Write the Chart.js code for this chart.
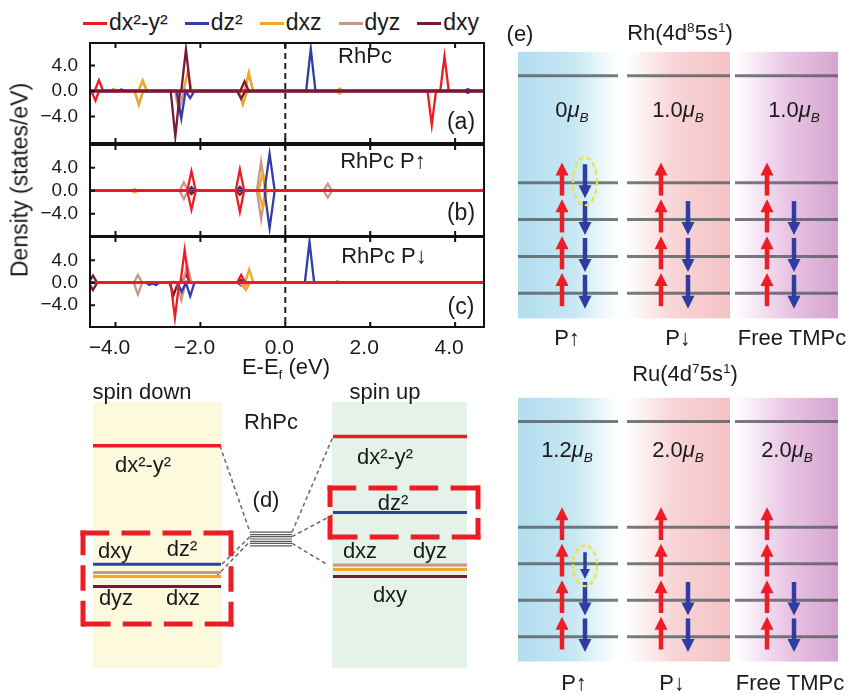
<!DOCTYPE html>
<html>
<head>
<meta charset="utf-8">
<title>RhPc DOS and spin diagrams</title>
<script src="https://cdn.jsdelivr.net/npm/chart.js@4.4.1/dist/chart.umd.min.js"></script>
<style>
    body { margin: 0; background: #fff; }
    #page {
        position: relative; width: 848px; height: 694px; overflow: hidden;
        font-family: 'Liberation Sans', Arial, sans-serif; color: #1a1a1a;
    }
    canvas { position: absolute; }
    .lbl {
        position: absolute; white-space: nowrap; line-height: 1;
        transform: translate(-50%, -50%); font-size: 22px;
    }
    sup, sub { font-size: 62%; line-height: 0; }
    #legend {
        position: absolute; left: 83px; top: 9px; display: flex; gap: 17px;
        font-size: 23px; line-height: 26px; white-space: nowrap;
    }
    #legend i { display: inline-block; width: 24px; height: 3px; margin-right: 2px; vertical-align: middle; }
</style>
</head>
<body>
<div id="page">
    <div id="legend"></div>
    <canvas id="dosA" width="500" height="104" style="left:0;top:41px"></canvas>
    <canvas id="dosB" width="500" height="95" style="left:0;top:143px"></canvas>
    <canvas id="dosC" width="500" height="137" style="left:0;top:235px"></canvas>
    <canvas id="diagD" width="425" height="310" style="left:75px;top:380px"></canvas>
    <canvas id="levelsRh" width="348" height="345" style="left:500px;top:0"></canvas>
    <canvas id="levelsRu" width="348" height="349" style="left:500px;top:345px"></canvas>
</div>

<script>
// ===============================
// DATA
// ===============================

const orbitals = ['dx²-y²', 'dz²', 'dxz', 'dyz', 'dxy'];
const panelTitles = ['RhPc', 'RhPc P↑', 'RhPc P↓'];
const xTickValues = [-4, -2, 0, 2, 4];
const yTickValues = [-4, 0, 4];
const fermiLevel = 0;

// [E (eV), DOS (states/eV)] per orbital, spin up positive / spin down negative
const panelA_up = [
    [[-4.7, 0], [-4.49, 0], [-4.39, 1.7], [-4.29, 0], [3.65, 0], [3.75, 5.4], [3.85, 0], [4.7, 0]],
    [[-4.7, 0], [0.49, 0], [0.6, 6.6], [0.71, 0], [4.22, 0], [4.3, 0.3], [4.38, 0], [4.7, 0]],
    [[-4.7, 0], [-4.13, 0], [-4.05, 0.3], [-3.97, 0], [-3.46, 0], [-3.36, 1.7], [-3.26, 0], [-2.4, 0], [-2.3, 3.0], [-2.2, 0], [-0.96, 0], [-0.86, 2.9], [-0.76, 0], [1.2, 0], [1.28, 0.4], [1.36, 0], [4.7, 0]],
    [[-4.7, 0], [-4.13, 0], [-4.05, 0.3], [-3.97, 0], [-3.46, 0], [-3.36, 1.5], [-3.26, 0], [-0.96, 0], [-0.86, 2.6], [-0.76, 0], [4.7, 0]],
    [[-4.7, 0], [-3.94, 0], [-3.86, 0.25], [-3.78, 0], [-2.45, 0], [-2.34, 6.5], [-2.23, 0], [-1.06, 0], [-0.96, 1.5], [-0.86, 0], [4.7, 0]]
];
const panelA_down = [
    [[-4.7, 0], [-4.57, 0], [-4.47, -1.5], [-4.39, 0], [3.35, 0], [3.45, -5.3], [3.55, 0], [4.7, 0]],
    [[-4.7, 0], [-2.56, 0], [-2.45, -4.3], [-2.35, 0], [-2.24, -1.1], [-2.14, 0], [4.22, 0], [4.3, -0.3], [4.38, 0], [4.7, 0]],
    [[-4.7, 0], [-3.55, 0], [-3.45, -2.0], [-3.35, 0], [-1.1, 0], [-1.0, -2.0], [-0.9, 0], [1.2, 0], [1.28, -0.4], [1.36, 0], [4.7, 0]],
    [[-4.7, 0], [-3.55, 0], [-3.45, -2.2], [-3.35, 0], [-2.6, 0], [-2.5, -3.2], [-2.4, 0], [-1.1, 0], [-1.0, -2.1], [-0.9, 0], [4.7, 0]],
    [[-4.7, 0], [-2.7, 0], [-2.59, -7.1], [-2.48, 0], [-1.14, 0], [-1.04, -1.2], [-0.94, 0], [4.7, 0]]
];
const panelB_up = [
    [[-4.7, 0], [-2.31, 0], [-2.21, 3.4], [-2.11, 0], [-1.17, 0], [-1.07, 3.7], [-0.97, 0], [4.7, 0]],
    [[-4.7, 0], [-0.49, 0], [-0.37, 6.4], [-0.25, 0], [4.7, 0]],
    [[-4.7, 0], [-3.63, 0], [-3.55, 0.3], [-3.47, 0], [-0.63, 0], [-0.53, 3.2], [-0.43, 0], [4.7, 0]],
    [[-4.7, 0], [-2.49, 0], [-2.39, 1.45], [-2.29, 0], [-0.67, 0], [-0.57, 5.0], [-0.47, 0], [0.9, 0], [1.0, 1.2], [1.1, 0], [4.7, 0]],
    [[-4.7, 0], [-2.29, 0], [-2.21, 0.6], [-2.13, 0], [-1.15, 0], [-1.07, 0.7], [-0.99, 0], [4.7, 0]]
];
const panelB_down = [
    [[-4.7, 0], [-2.31, 0], [-2.21, -3.3], [-2.11, 0], [-1.17, 0], [-1.07, -3.7], [-0.97, 0], [4.7, 0]],
    [[-4.7, 0], [-0.49, 0], [-0.37, -6.5], [-0.25, 0], [4.7, 0]],
    [[-4.7, 0], [-3.63, 0], [-3.55, -0.3], [-3.47, 0], [-0.63, 0], [-0.53, -3.0], [-0.43, 0], [4.7, 0]],
    [[-4.7, 0], [-2.49, 0], [-2.39, -1.45], [-2.29, 0], [-0.67, 0], [-0.57, -5.0], [-0.47, 0], [0.9, 0], [1.0, -1.2], [1.1, 0], [4.7, 0]],
    [[-4.7, 0], [-2.29, 0], [-2.21, -0.6], [-2.13, 0], [-1.15, 0], [-1.07, -0.7], [-0.99, 0], [4.7, 0]]
];
const panelC_up = [
    [[-4.7, 0], [-2.47, 0], [-2.37, 5.8], [-2.27, 0], [-1.14, 0], [-1.04, 1.4], [-0.94, 0], [4.7, 0]],
    [[-4.7, 0], [0.46, 0], [0.57, 7.3], [0.68, 0], [4.7, 0]],
    [[-4.7, 0], [-0.95, 0], [-0.85, 2.4], [-0.75, 0], [4.7, 0]],
    [[-4.7, 0], [-3.57, 0], [-3.47, 1.4], [-3.37, 0], [-2.41, 0], [-2.31, 3.2], [-2.21, 0], [1.15, 0], [1.23, 0.3], [1.31, 0], [4.7, 0]],
    [[-4.7, 0], [-4.63, 0], [-4.53, 1.3], [-4.43, 0], [-2.44, 0], [-2.34, 1.5], [-2.24, 0], [-1.12, 0], [-1.04, 0.5], [-0.96, 0], [4.7, 0]]
];
const panelC_down = [
    [[-4.7, 0], [-2.7, 0], [-2.6, -6.25], [-2.5, 0], [4.7, 0]],
    [[-4.7, 0], [-3.28, 0], [-3.2, -0.4], [-3.12, 0], [-3.05, -0.4], [-2.97, 0], [-2.54, 0], [-2.44, -1.6], [-2.34, 0], [-2.24, -2.4], [-2.14, 0], [4.7, 0]],
    [[-4.7, 0], [-1.03, 0], [-0.93, -1.3], [-0.83, 0], [4.7, 0]],
    [[-4.7, 0], [-3.57, 0], [-3.47, -2.1], [-3.37, 0], [-2.55, 0], [-2.45, -3.1], [-2.35, 0], [-1.08, 0], [-0.98, -0.8], [-0.88, 0], [4.7, 0]],
    [[-4.7, 0], [-4.63, 0], [-4.53, -1.3], [-4.43, 0], [-2.73, 0], [-2.63, -2.2], [-2.53, 0], [-1.12, 0], [-1.04, -0.5], [-0.96, 0], [4.7, 0]]
];

// (d) crystal-field levels of RhPc (relative energy), same orbital order
const spinDownLevels = [2.33, -0.63, -0.94, -0.84, -1.19];
const spinUpLevels = [2.56, 0.66, -0.76, -0.65, -0.94];
const freeIonLevels = [0.17, 0.11, 0.06, 0, -0.06, -0.11, -0.17];

// (e) filling of the four occupied d levels + empty top level
const eColumns = ['P↑', 'P↓', 'Free TMPc'];
const eLevels = [1, 2, 3, 4, 6.9];
const rhSpinUp = [4, 4, 4];
const rhSpinDown = [4, 3, 3];
const ruSpinUp = [4, 4, 4];
const ruSpinDown = [2.8, 2, 2];

// ===============================
// STYLE / LAYOUT
// ===============================

const FONT = "'Liberation Sans', Arial, sans-serif";
const orbitalColors = ['#ec1c24', '#2f3fa6', '#f5a623', '#c8978a', '#78183c'];
Chart.defaults.font.family = FONT;
Chart.defaults.color = '#1a1a1a';

const page = document.getElementById('page');
const fmt = v => (v < 0 ? '\u2212' : '') + Math.abs(v).toFixed(1);

function addLabel(html, x, y, extra) {
    const el = document.createElement('div');
    el.className = 'lbl';
    el.innerHTML = html;
    el.style.left = x + 'px';
    el.style.top = y + 'px';
    if (extra) el.style.cssText += extra;
    page.appendChild(el);
}

// ===============================
// DOS PANELS (a)(b)(c)
// ===============================

const dosFrame = {
    id: 'dosFrame',
    beforeDatasetsDraw(chart) {
        const { ctx, chartArea: a } = chart;
        const px = chart.scales.x.getPixelForValue(fermiLevel);
        ctx.save();
        ctx.strokeStyle = '#222';
        ctx.lineWidth = 2;
        ctx.setLineDash([6, 4]);
        ctx.beginPath();
        ctx.moveTo(px, a.top);
        ctx.lineTo(px, a.bottom);
        ctx.stroke();
        ctx.restore();
    },
    afterDraw(chart) {
        const { ctx, chartArea: a, scales: { x, y } } = chart;
        ctx.save();
        ctx.strokeStyle = '#111';
        ctx.lineWidth = 2;
        ctx.beginPath();
        xTickValues.forEach(v => {
            const px = x.getPixelForValue(v);
            ctx.moveTo(px, a.bottom); ctx.lineTo(px, a.bottom - 5);
            ctx.moveTo(px, a.top); ctx.lineTo(px, a.top + 5);
        });
        yTickValues.forEach(v => {
            const py = y.getPixelForValue(v);
            ctx.moveTo(a.left, py); ctx.lineTo(a.left + 5, py);
        });
        ctx.stroke();
        ctx.strokeRect(a.left, a.top, a.right - a.left, a.bottom - a.top);
        ctx.restore();
    }
};

function makeDos(id, upSets, downSets, yMin, yMax, topOrbital, showX) {
    const datasets = [];
    orbitals.forEach((name, i) => {
        [upSets[i], downSets[i]].forEach(pts => {
            datasets.push({
                label: name,
                data: pts.map(p => ({ x: p[0], y: p[1] })),
                borderColor: orbitalColors[i],
                borderWidth: 2.3,
                pointRadius: 0,
                tension: 0,
                order: i === topOrbital ? 0 : 1
            });
        });
    });

    return new Chart(document.getElementById(id), {
        type: 'line',
        data: { datasets },
        options: {
            responsive: false,
            animation: false,
            events: [],
            layout: { padding: { top: 2, bottom: showX ? 0 : 2, left: 0, right: 16 } },
            plugins: { legend: { display: false }, tooltip: { enabled: false } },
            scales: {
                x: {
                    type: 'linear',
                    min: -4.6,
                    max: 4.68,
                    display: showX,
                    afterBuildTicks: s => { s.ticks = xTickValues.map(v => ({ value: v })); },
                    afterFit: s => {
                        if (showX) s.height = 45;
                        s.paddingLeft = 0;
                        s.paddingRight = 0;
                    },
                    grid: { display: false },
                    border: { display: false },
                    ticks: {
                        font: { size: 21 },
                        color: '#1a1a1a',
                        padding: 1,
                        labelOffset: -6,
                        maxRotation: 0,
                        autoSkip: false,
                        callback: v => fmt(v)
                    }
                },
                y: {
                    min: yMin,
                    max: yMax,
                    afterBuildTicks: s => { s.ticks = yTickValues.map(v => ({ value: v })); },
                    afterFit: s => {
                        s.width = 90;
                        s.paddingTop = 0;
                        s.paddingBottom = 0;
                    },
                    grid: { display: false },
                    border: { display: false },
                    ticks: {
                        font: { size: 19 },
                        color: '#1a1a1a',
                        padding: 4,
                        callback: v => fmt(v)
                    }
                }
            }
        },
        plugins: [dosFrame]
    });
}

makeDos('dosA', panelA_up, panelA_down, -8.125, 7.5, 4, false);
makeDos('dosB', panelB_up, panelB_down, -7.88, 7.95, 0, false);
makeDos('dosC', panelC_up, panelC_down, -7.9, 8.16, 0, true);

// legend
const legendBox = document.getElementById('legend');
orbitals.forEach((name, i) => {
    legendBox.innerHTML += `<span><i style="background:${orbitalColors[i]}"></i>${name}</span>`;
});

addLabel(panelTitles[0], 365, 56);
addLabel('(a)', 461, 121, 'font-size:23px');
addLabel(panelTitles[1], 383, 161);
addLabel('(b)', 461, 212, 'font-size:23px');
addLabel(panelTitles[2], 384, 256);
addLabel('(c)', 461, 306, 'font-size:23px');
addLabel('Density (states/eV)', 20, 180, 'transform:translate(-50%,-50%) rotate(-90deg);font-size:23px');
addLabel('E-E<sub>f</sub> (eV)', 286, 367);

// ===============================
// (d) LEVEL SPLITTING
// ===============================

const dLayout = {
    left: [93, 221],
    right: [333, 467],
    centre: [250, 292],
    bgLeft: [93, 222],
    bgRight: [332, 467],
    bgTop: 3.425,
    bgBottom: -3.225,
    leftBox: [83, 231, 0.15, -2.125],
    rightBox: [330, 478, 1.275, 0.05],
    leftLinks: [[0, 220, 0], [1, 222, 2], [2, 216, 4]],
    rightLinks: [[0, 333, 0], [1, 337, 2], [3, 328, 5]]
};

function levelLine(span, e, color, width) {
    return {
        data: [{ x: span[0], y: e }, { x: span[1], y: e }],
        borderColor: color,
        borderWidth: width,
        pointRadius: 0
    };
}

function dashedSide(ctx, x0, y0, x1, y1) {
    const len = Math.hypot(x1 - x0, y1 - y0);
    const n = Math.max(1, Math.round((len + 16) / 38));
    const s = (len + 16) / (n * 38);
    ctx.setLineDash([22 * s, 16 * s]);
    ctx.beginPath();
    ctx.moveTo(x0, y0);
    ctx.lineTo(x1, y1);
    ctx.stroke();
}

const diagramD = {
    id: 'diagramD',
    beforeDatasetsDraw(chart) {
        const { ctx, scales: { x, y } } = chart;
        const top = y.getPixelForValue(dLayout.bgTop);
        const bot = y.getPixelForValue(dLayout.bgBottom);
        ctx.save();
        ctx.fillStyle = '#fcf9dd';
        ctx.fillRect(x.getPixelForValue(dLayout.bgLeft[0]), top,
            x.getPixelForValue(dLayout.bgLeft[1]) - x.getPixelForValue(dLayout.bgLeft[0]), bot - top);
        ctx.fillStyle = '#e4f2e9';
        ctx.fillRect(x.getPixelForValue(dLayout.bgRight[0]), top,
            x.getPixelForValue(dLayout.bgRight[1]) - x.getPixelForValue(dLayout.bgRight[0]), bot - top);
        ctx.restore();
    },
    afterDatasetsDraw(chart) {
        const { ctx, scales: { x, y } } = chart;
        ctx.save();
        ctx.strokeStyle = '#ec1c24';
        ctx.lineWidth = 5;
        ctx.lineCap = 'square';
        [dLayout.leftBox, dLayout.rightBox].forEach(b => {
            const x0 = x.getPixelForValue(b[0]), x1 = x.getPixelForValue(b[1]);
            const y0 = y.getPixelForValue(b[2]), y1 = y.getPixelForValue(b[3]);
            dashedSide(ctx, x0, y0, x1, y0);
            dashedSide(ctx, x1, y0, x1, y1);
            dashedSide(ctx, x1, y1, x0, y1);
            dashedSide(ctx, x0, y1, x0, y0);
        });
        ctx.restore();
    }
};

const dDatasets = [];
orbitals.forEach((name, i) => {
    const w = i === 0 ? 3.5 : 3;
    dDatasets.push(levelLine(dLayout.left, spinDownLevels[i], orbitalColors[i], w));
    dDatasets.push(levelLine(dLayout.right, spinUpLevels[i], orbitalColors[i], w));
});
freeIonLevels.forEach(e => dDatasets.push(levelLine(dLayout.centre, e, '#5a5a5a', 1.2)));
dLayout.leftLinks.forEach(([orb, x0, c]) => {
    dDatasets.push({
        data: [{ x: x0, y: spinDownLevels[orb] }, { x: dLayout.centre[0], y: freeIonLevels[c] }],
        borderColor: '#707070', borderWidth: 1.6, borderDash: [4, 3], pointRadius: 0
    });
});
dLayout.rightLinks.forEach(([orb, x1, c]) => {
    dDatasets.push({
        data: [{ x: dLayout.centre[1], y: freeIonLevels[c] }, { x: x1, y: spinUpLevels[orb] }],
        borderColor: '#707070', borderWidth: 1.6, borderDash: [4, 3], pointRadius: 0
    });
});

new Chart(document.getElementById('diagD'), {
    type: 'line',
    data: { datasets: dDatasets },
    options: {
        responsive: false,
        animation: false,
        events: [],
        layout: { padding: 0 },
        plugins: { legend: { display: false }, tooltip: { enabled: false } },
        scales: {
            x: { type: 'linear', display: false, min: 75, max: 500 },
            y: { display: false, min: -3.775, max: 3.975 }
        }
    },
    plugins: [diagramD]
});

addLabel('spin down', 142, 392);
addLabel('spin up', 385, 392);
addLabel('RhPc', 271, 422);
addLabel('(d)', 266, 500);
addLabel(orbitals[0], 143, 465);
addLabel(orbitals[0], 385, 457);
addLabel(orbitals[1], 393, 503);
addLabel(orbitals[2], 360, 551);
addLabel(orbitals[3], 430, 551);
addLabel(orbitals[4], 390, 595);
addLabel(orbitals[4], 115, 551);
addLabel(orbitals[1], 182, 549);
addLabel(orbitals[3], 116, 598);
addLabel(orbitals[2], 183, 598);

// ===============================
// (e) SPIN FILLING
// ===============================

const eLayout = {
    cols: [[518, 618], [627, 730], [735, 838]],
    arrowX: [[562, 585], [661, 688], [767, 794]],
    bgTop: 7.55,
    bgBottom: 0.32,
    shades: [
        [[0, '#b2ddef'], [0.55, '#c6e7f3'], [1, '#ffffff']],
        [[0, '#ffffff'], [0.45, '#f8d5d7'], [1, '#f4c2c5']],
        [[0, '#ffffff'], [0.5, '#e9c6e5'], [1, '#d6a4cf']]
    ]
};

function drawArrow(ctx, x, y0, y1, color, w, head) {
    const dir = Math.sign(y1 - y0);
    ctx.strokeStyle = color;
    ctx.fillStyle = color;
    ctx.lineWidth = w;
    ctx.beginPath();
    ctx.moveTo(x, y0);
    ctx.lineTo(x, y1 - dir * head * 0.8);
    ctx.stroke();
    ctx.beginPath();
    ctx.moveTo(x, y1);
    ctx.lineTo(x - head / 2, y1 - dir * head);
    ctx.lineTo(x + head / 2, y1 - dir * head);
    ctx.closePath();
    ctx.fill();
}

function spinPlugin(spinUp, spinDown, highlight) {
    return {
        id: 'spinFill',
        beforeDatasetsDraw(chart) {
            const { ctx, scales: { x, y } } = chart;
            const top = y.getPixelForValue(eLayout.bgTop);
            const bot = y.getPixelForValue(eLayout.bgBottom);
            ctx.save();
            eLayout.cols.forEach((c, i) => {
                const x0 = x.getPixelForValue(c[0]), x1 = x.getPixelForValue(c[1]);
                const g = ctx.createLinearGradient(x0, 0, x1, 0);
                eLayout.shades[i].forEach(([p, col]) => g.addColorStop(p, col));
                ctx.fillStyle = g;
                ctx.fillRect(x0, top, x1 - x0, bot - top);
            });
            ctx.restore();
        },
        afterDatasetsDraw(chart) {
            const { ctx, scales: { x, y } } = chart;
            ctx.save();
            eColumns.forEach((name, c) => {
                // spin up
                const nUp = spinUp[c];
                for (let k = 0; k < Math.ceil(nUp - 1e-9); k++) {
                    const frac = Math.min(1, nUp - k);
                    const L = eLevels[k];
                    drawArrow(ctx, x.getPixelForValue(eLayout.arrowX[c][0]),
                        y.getPixelForValue(L - 0.35), y.getPixelForValue(L - 0.35 + 0.9 * frac),
                        '#ee1c25', frac < 1 ? 3.5 : 4.5, frac < 1 ? 10 : 13);
                }
                // spin down
                const nDown = spinDown[c];
                for (let k = 0; k < Math.ceil(nDown - 1e-9); k++) {
                    const frac = Math.min(1, nDown - k);
                    const L = eLevels[k];
                    const tip = L - 0.42, tail = tip + 0.92 * frac;
                    const xp = x.getPixelForValue(eLayout.arrowX[c][1]);
                    drawArrow(ctx, xp, y.getPixelForValue(tail), y.getPixelForValue(tip),
                        '#2e3d9f', frac < 1 ? 3.5 : 4.5, frac < 1 ? 10 : 13);
                    if (highlight[0] === c && highlight[1] === k) {
                        const p0 = y.getPixelForValue(tail), p1 = y.getPixelForValue(tip);
                        ctx.save();
                        ctx.strokeStyle = '#f1e23a';
                        ctx.lineWidth = 2.2;
                        ctx.setLineDash([5, 3]);
                        ctx.beginPath();
                        ctx.ellipse(xp, (p0 + p1) / 2, 12, Math.abs(p1 - p0) / 2 + 7, 0, 0, Math.PI * 2);
                        ctx.stroke();
                        ctx.restore();
                    }
                }
            });
            ctx.restore();
        }
    };
}

function makeLevels(id, yMin, yMax, spinUp, spinDown, highlight) {
    const datasets = [];
    eLayout.cols.forEach(span => {
        eLevels.forEach(L => datasets.push(levelLine(span, L, 'rgba(88,94,98,0.82)', 3)));
    });
    return new Chart(document.getElementById(id), {
        type: 'line',
        data: { datasets },
        options: {
            responsive: false,
            animation: false,
            events: [],
            layout: { padding: 0 },
            plugins: { legend: { display: false }, tooltip: { enabled: false } },
            scales: {
                x: { type: 'linear', display: false, min: 500, max: 848 },
                y: { display: false, min: yMin, max: yMax }
            }
        },
        plugins: [spinPlugin(spinUp, spinDown, highlight)]
    });
}

makeLevels('levelsRh', -0.402, 8.955, rhSpinUp, rhSpinDown, [0, 3]);
makeLevels('levelsRu', -0.571, 8.998, ruSpinUp, ruSpinDown, [0, 2]);

const moment = (u, d) => {
    const m = u - d;
    return (m === 0 ? '0' : m.toFixed(1)) + '<i>μ</i><sub><i>B</i></sub>';
};

addLabel('(e)', 520, 34);
addLabel('Rh(4d<sup>8</sup>5s<sup>1</sup>)', 680, 33);
addLabel('Ru(4d<sup>7</sup>5s<sup>1</sup>)', 685, 374);
[572, 678, 794].forEach((px, c) => addLabel(moment(rhSpinUp[c], rhSpinDown[c]), px, 110));
[567, 678, 787].forEach((px, c) => addLabel(moment(ruSpinUp[c], ruSpinDown[c]), px, 450));
[567, 678, 792].forEach((px, c) => addLabel(eColumns[c], px, 338));
[574, 672, 790].forEach((px, c) => addLabel(eColumns[c], px, 683));
</script>
</body>
</html>
